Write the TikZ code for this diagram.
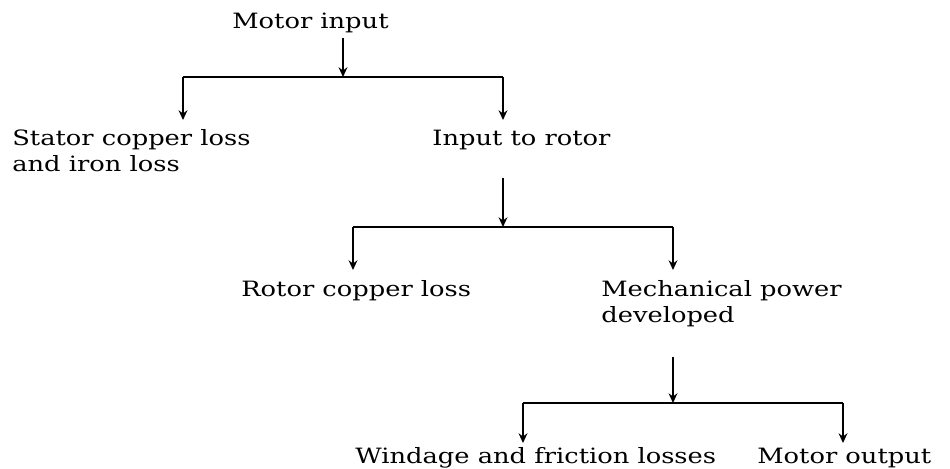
\documentclass[tikz,border=0pt]{standalone}
\usepackage{fontspec}
\setmainfont[FakeStretch=1.22]{DejaVu Serif}
\usetikzlibrary{arrows.meta}
\begin{document}
\begin{tikzpicture}[
	x=0.02cm, y=-0.02cm,
	lbl/.style={ font=\fontsize{12}{14.5}\selectfont, inner sep=0pt, anchor=base west, align=left },
	flow/.style={ line width=1pt, -{Stealth[length=5.5pt,width=5pt]} },
	bar/.style={ line width=1pt }
]
\useasboundingbox (0,0) rectangle (950,468);

\node at (232,28) (motorin) [lbl] {Motor input};
\node at (12,171) (stator) [lbl] {Stator copper loss\\and iron loss};
\node at (432,145) (rotorin) [lbl] {Input to rotor};
\node at (241,296) (rotorcu) [lbl] {Rotor copper loss};
\node at (601,322) (mech) [lbl] {Mechanical power\\developed};
\node at (355,463) (windage) [lbl] {Windage and friction losses};
\node at (757,463) (motorout) [lbl] {Motor output};

% first split
\coordinate (forka) at (343,77);
\coordinate (statortip) at (183,120);
\coordinate (rotortip) at (503,120);
\draw[flow] (motorin.south -| forka) ++(0,5) -- (forka);
\draw[bar] (statortip |- forka) -- (rotortip |- forka);
\foreach \p in {statortip,rotortip} \draw[flow] (\p |- forka) -- (\p);

% second split
\coordinate (forkb) at (503,227);
\coordinate (cutip) at (353,270);
\coordinate (mechtip) at (673,270);
\draw[flow] (rotorin.south -| forkb) ++(0,28) -- (forkb);
\draw[bar] (cutip |- forkb) -- (mechtip |- forkb);
\foreach \p in {cutip,mechtip} \draw[flow] (\p |- forkb) -- (\p);

% third split
\coordinate (forkc) at (673,403);
\coordinate (windtip) at (523,443);
\coordinate (outtip) at (843,443);
\draw[flow] (mech.south -| forkc) ++(0,30) -- (forkc);
\draw[bar] (windtip |- forkc) -- (outtip |- forkc);
\foreach \p in {windtip,outtip} \draw[flow] (\p |- forkc) -- (\p);

\end{tikzpicture}
\end{document}
